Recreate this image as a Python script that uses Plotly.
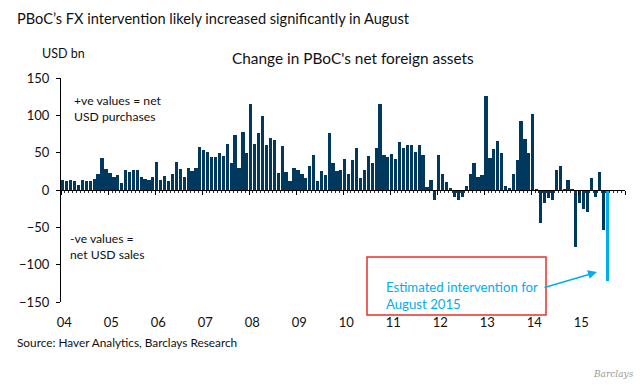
import pandas as pd
import plotly.graph_objects as go

# ---- data (USD bn, monthly change in PBoC net foreign assets) ----
v2004 = [14, 12, 13, 12, 7, 14, 12, 12, 15, 22, 43, 28]
v2005 = [23, 18, 20, 10, 27, 24, 27, 27, 18, 15, 14, 17]
v2006 = [38, 13, 19, 12, 21, 37, 28, 17, 29, 26, 30, 58]
v2007 = [53, 51, 44, 44, 50, 45, 62, 36, 73, 30, 78, 49]
v2008 = [115, 62, 77, 99, 60, 70, 67, 23, 59, 24, 12, 30]
v2009 = [27, 21, 16, 32, 47, 12, 26, 20, 77, 36, 26, 27]
v2010 = [41, 22, 40, 56, 16, 27, 46, 36, 56, 115, 47, 44]
v2011 = [48, 42, 64, 56, 60, 60, 51, 60, 47, 4, 13, -14]
v2012 = [47, 22, 11, 2, -9, -14, -9, 6, 22, 36, 17, 20]
v2013 = [126, 43, 55, 66, 49, 6, 2, 21, 40, 92, 68, 50]
v2014 = [102, 1, -44, -18, -11, -13, 27, 32, 1, 14, 1, -76]
v2015 = [-18, -26, -29, 16, -9, 24, -54, -122]   # Aug 2015 = estimate

values = v2004 + v2005 + v2006 + v2007 + v2008 + v2009 + v2010 + v2011 + v2012 + v2013 + v2014 + v2015
years = list(range(2004, 2016))
year_labels = ["04", "05", "06", "07", "08", "09", "10", "11", "12", "13", "14", "15"]
y_ticks = [-150, -100, -50, 0, 50, 100, 150]

DARK = "#00395D"
LIGHT = "#00AEEF"
RED = "#E8322B"
FONT = "Lato"

months = pd.date_range("2004-01-01", periods=len(values), freq="MS") + pd.Timedelta(days=14)
colors = [DARK] * (len(values) - 1) + [LIGHT]

x_range = ["2004-01-01", "2016-01-01"]

fig = go.Figure()
fig.add_trace(go.Bar(
    x=months, y=values, marker=dict(color=colors, line=dict(width=0)),
    width=25 * 86400000, hoverinfo="skip", showlegend=False,
))
# invisible helper so the zero-line axis is drawn
fig.add_trace(go.Scatter(
    x=[months[0], months[-1]], y=[0, 0], xaxis="x2", mode="lines",
    line=dict(width=0), hoverinfo="skip", showlegend=False,
))

L, R, T, B = 61, 15, 78, 83
W, H = 640, 385
PW, PH = W - L - R, H - T - B

def px(x):
    return (x - L) / PW

def py(y):
    return (H - B - y) / PH

fig.update_layout(
    width=W, height=H,
    margin=dict(l=L, r=R, t=T, b=B),
    paper_bgcolor="white", plot_bgcolor="white",
    font=dict(family=FONT, color="#111111", size=13),
    bargap=0,
    xaxis=dict(
        type="date", range=x_range, showline=False, showgrid=False, zeroline=False,
        ticks="", tickvals=[f"{y}-01-26" for y in years], ticktext=year_labels,
        tickfont=dict(size=13, color="#111111"), ticklabelstandoff=11,
    ),
    xaxis2=dict(
        type="date", range=x_range, overlaying="x", anchor="free", position=0.5,
        side="bottom", showline=True, linecolor="black", linewidth=1.3,
        ticks="outside", ticklen=4, tickwidth=1, tickcolor="black",
        tickvals=[f"{y}-01-01" for y in years + [2016]], showticklabels=False,
        showgrid=False, zeroline=False,
        minor=dict(ticks="outside", dtick="M1", ticklen=1.5, tickcolor="#333333", tickwidth=1),
    ),
    yaxis=dict(
        range=[-150, 150], tickvals=y_ticks, showline=True, linecolor="black",
        linewidth=1.3, ticks="outside", ticklen=4, tickcolor="black",
        showgrid=False, zeroline=False, tickfont=dict(size=13, color="#111111"),
        ticklabelstandoff=4,
    ),
)

ann = []
ann.append(dict(text="PBoC\u2019s FX intervention likely increased significantly in August",
                x=px(15), y=py(18), xanchor="left", yanchor="middle",
                font=dict(size=14.6, color="#111111")))
ann.append(dict(text="USD bn", x=px(40), y=py(54), xanchor="left", yanchor="middle",
                font=dict(size=12.5)))
ann.append(dict(text="Change in PBoC's net foreign assets", x=px(353), y=py(58),
                xanchor="center", yanchor="middle", font=dict(size=15.4)))
ann.append(dict(text="+ve values = net<br>USD purchases", x=px(72), y=py(108),
                xanchor="left", yanchor="middle", align="left", font=dict(size=12.2)))
ann.append(dict(text="-ve values =<br>net USD sales", x=px(68), y=py(246),
                xanchor="left", yanchor="middle", align="left", font=dict(size=12.2)))
ann.append(dict(text="Estimated intervention for<br>August 2015", x=px(384), y=py(295),
                xanchor="left", yanchor="middle", align="left",
                font=dict(size=13.2, color=LIGHT)))
ann.append(dict(text="", x=px(597), y=py(272), ax=-54, ay=16,
                showarrow=True, arrowhead=2, arrowsize=1.2, arrowwidth=1.5,
                arrowcolor=LIGHT))
ann.append(dict(text="Source: Haver Analytics, Barclays Research", x=px(15), y=py(342),
                xanchor="left", yanchor="middle", font=dict(size=11.8)))
ann.append(dict(text="<i>Barclays</i>", x=px(636), y=py(374), xanchor="right",
                yanchor="middle", font=dict(size=9, color="#9a9a9a", family="DejaVu Serif")))
for a in ann:
    a.setdefault("showarrow", False)
    a["xref"] = "paper"
    a["yref"] = "paper"
fig.update_layout(annotations=ann)

fig.add_shape(type="rect", xref="paper", yref="paper",
              x0=px(367), x1=px(546), y0=py(315), y1=py(257),
              line=dict(color=RED, width=1.5), fillcolor="rgba(0,0,0,0)")

fig.write_html("out.html", config={"displayModeBar": False},
               post_script="document.body.style.margin='0px';")
